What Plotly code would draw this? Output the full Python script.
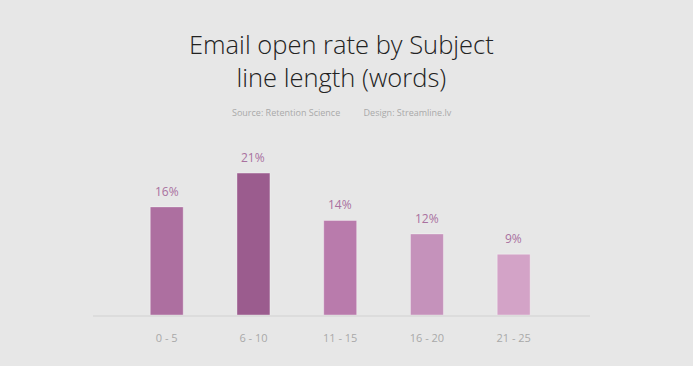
import plotly.graph_objects as go

categories = ["0 - 5", "6 - 10", "11 - 15", "16 - 20", "21 - 25"]
open_rate = [16, 21, 14, 12, 9]
labels = ["16%", "21%", "14%", "12%", "9%"]
bar_colors = ["#ad6fa0", "#9b5c8e", "#b97bac", "#c592bb", "#d3a3c7"]

W, H = 693, 366
ML, MR, MT, MB = 93, 103, 140, 51
plot_h = H - MT - MB


def py(pix):
    return (H - MB - pix) / plot_h


fig = go.Figure()
fig.add_trace(go.Bar(
    x=categories, y=open_rate,
    marker=dict(color=bar_colors, line=dict(color="rgba(255,255,255,0.35)", width=1)),
    width=0.38, hoverinfo="skip",
))

for c, v, t in zip(categories, open_rate, labels):
    fig.add_annotation(x=c, y=v, text=t, showarrow=False, yanchor="bottom", yshift=5,
                       font=dict(family="Open Sans", size=12, color="#a9719f"))

fig.update_layout(
    width=W, height=H,
    margin=dict(l=ML, r=MR, t=MT, b=MB),
    paper_bgcolor="#e7e7e7", plot_bgcolor="#e7e7e7",
    showlegend=False,
    xaxis=dict(range=[-0.85, 4.88], showgrid=False, showline=True,
               linecolor="#dcdcdc", linewidth=2, ticks="",
               tickfont=dict(family="Open Sans", size=11, color="#a9a9a9"),
               ticklabelstandoff=12),
    yaxis=dict(range=[0, 25.9], visible=False, showgrid=False),
)

fig.add_annotation(text="Email open rate by Subject<br>line length (words)", x=0.5, xref="paper",
                   y=py(60.5), yref="paper", xanchor="center", yanchor="middle", showarrow=False,
                   font=dict(family="Open Sans", size=25.5, color="#222222", weight=300))
fig.add_annotation(text="Source: Retention Science" + "&nbsp;" * 10 + "Design: Streamline.lv",
                   x=0.5, xref="paper", y=py(112), yref="paper",
                   xanchor="center", yanchor="middle", showarrow=False,
                   font=dict(family="Open Sans", size=9, color="#a9a9a9"))

fig.write_html("out.html", config={"displayModeBar": False},
               post_script="document.body.style.margin='0';")
